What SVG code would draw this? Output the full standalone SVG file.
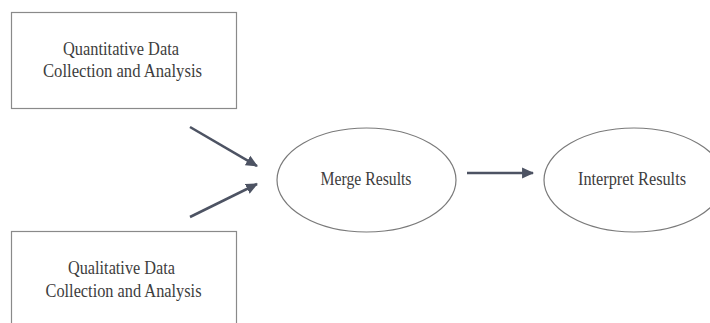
<svg xmlns="http://www.w3.org/2000/svg" width="710" height="323" viewBox="0 0 710 323">
<style>
.box{fill:#fff;stroke:#8a8a8a;stroke-width:1.2}
.ell{fill:#fff;stroke:#7a7a7a;stroke-width:1.2}
.t{font-family:"Liberation Serif","Times New Roman",serif;font-size:18.5px;fill:#3d3d3d;text-anchor:middle}
.c{stroke:#4d5363;stroke-width:2.6;fill:none;marker-end:url(#ah)}
</style>
<defs>
<marker id="ah" markerWidth="5" markerHeight="5" refX="4.2" refY="2.5" orient="auto" markerUnits="strokeWidth">
<path d="M0,0.4 L4.6,2.5 L0,4.6 Z" fill="#4d5363"/>
</marker>
</defs>
<rect width="710" height="323" fill="#fff"/>
<g id="quant">
<rect class="box" x="11.5" y="12.5" width="225" height="96"/>
<text class="t" x="121" y="55" textLength="116" lengthAdjust="spacingAndGlyphs">Quantitative Data</text>
<text class="t" x="122.5" y="77" textLength="159" lengthAdjust="spacingAndGlyphs">Collection and Analysis</text>
</g>
<g id="qual">
<rect class="box" x="11.5" y="231.5" width="225" height="100"/>
<text class="t" x="121.5" y="274" textLength="107" lengthAdjust="spacingAndGlyphs">Qualitative Data</text>
<text class="t" x="123.5" y="297" textLength="156" lengthAdjust="spacingAndGlyphs">Collection and Analysis</text>
</g>
<g id="merge">
<ellipse class="ell" cx="366.5" cy="180" rx="89.5" ry="52"/>
<text class="t" x="366" y="185" textLength="91" lengthAdjust="spacingAndGlyphs">Merge Results</text>
</g>
<g id="interpret">
<ellipse class="ell" cx="634" cy="180" rx="90" ry="52"/>
<text class="t" x="632" y="185" textLength="108" lengthAdjust="spacingAndGlyphs">Interpret Results</text>
</g>
<g id="connectors">
<line class="c" x1="190" y1="127" x2="257" y2="166"/>
<line class="c" x1="190" y1="217" x2="257" y2="184"/>
<line class="c" x1="467" y1="173" x2="533" y2="173"/>
</g>
</svg>
